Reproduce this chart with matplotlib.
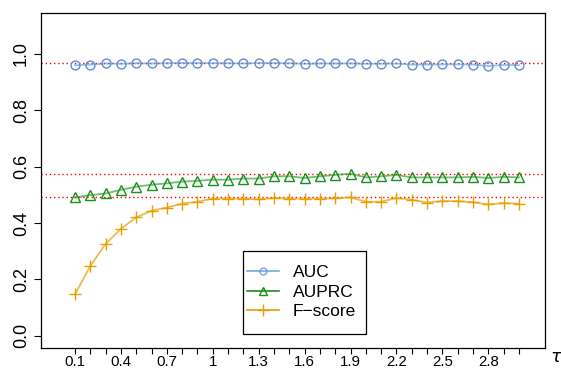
import matplotlib.pyplot as plt
from matplotlib.patches import Rectangle

plt.rcParams['font.family'] = ['Liberation Sans', 'DejaVu Sans']

# tau values 0.1 .. 3.0
tau = [round(0.1 * i, 1) for i in range(1, 31)]

auc = [0.960, 0.962, 0.966, 0.965, 0.967, 0.966, 0.967, 0.968, 0.968, 0.967,
       0.967, 0.966, 0.968, 0.967, 0.967, 0.965, 0.966, 0.966, 0.966, 0.965,
       0.965, 0.966, 0.962, 0.962, 0.963, 0.963, 0.962, 0.957, 0.961, 0.960]

auprc = [0.491, 0.499, 0.505, 0.518, 0.529, 0.536, 0.541, 0.547, 0.550, 0.554,
         0.554, 0.558, 0.558, 0.566, 0.566, 0.560, 0.566, 0.571, 0.575, 0.562,
         0.566, 0.571, 0.562, 0.562, 0.562, 0.562, 0.564, 0.560, 0.564, 0.562]

fscore = [0.147, 0.248, 0.326, 0.380, 0.420, 0.444, 0.455, 0.469, 0.476, 0.487,
          0.487, 0.487, 0.484, 0.489, 0.487, 0.487, 0.487, 0.488, 0.491, 0.476,
          0.476, 0.489, 0.483, 0.473, 0.478, 0.478, 0.474, 0.466, 0.471, 0.469]

tick_labels = ["0.1", "0.4", "0.7", "1", "1.3", "1.6", "1.9", "2.2", "2.5", "2.8"]

fig = plt.figure(figsize=(5.61, 3.69), dpi=100)
ax = fig.add_axes([41 / 561, 1 - 348.3 / 369, 504 / 561, 335 / 369])

c_auc = "#5b8fd6"
c_auprc = "#169016"
c_f = "#e69f00"

ax.plot(tau, auc, color=c_auc, lw=1.3, alpha=0.6, zorder=2)
ax.plot(tau, auc, linestyle="none", marker="o", ms=6.4, mfc="none", mec=c_auc, mew=1.0, zorder=3)
ax.plot(tau, auprc, color=c_auprc, lw=1.3, alpha=0.6, zorder=2)
ax.plot(tau, auprc, linestyle="none", marker="^", ms=7.2, mfc="none", mec=c_auprc, mew=1.0, zorder=3)
ax.plot(tau, fscore, color=c_f, lw=1.3, alpha=0.7, zorder=2)
ax.plot(tau, fscore, linestyle="none", marker="+", ms=9, mec=c_f, mew=1.0, zorder=3)

# best values as reference lines
for v in [max(auc), max(auprc), max(fscore)]:
    ax.axhline(v, color="red", lw=1.0, linestyle=(0, (1, 2)), zorder=1)

ax.set_xlim(-0.122, 3.17)
ax.set_ylim(-0.044, 1.144)
ax.set_xticks(tau)
ax.set_xticklabels([t if t in tick_labels else "" for t in
                    [("%g" % v) for v in tau]])
ax.set_yticks([0.0, 0.2, 0.4, 0.6, 0.8, 1.0])
ax.set_yticklabels(["0.0", "0.2", "0.4", "0.6", "0.8", "1.0"], rotation=90, va="center")
ax.tick_params(axis="both", direction="out", length=5, width=0.8, labelsize=13, pad=3)
ax.tick_params(axis="x", length=4.5, pad=0.3, labelsize=10.8)
for s in ax.spines.values():
    s.set_linewidth(0.9)

# legend box drawn by hand (R style: tight left padding)
ax.add_patch(Rectangle(((243 - 41) / 504, (348.3 - 334) / 335), 123 / 504, 83 / 335,
                       transform=ax.transAxes, fill=True, facecolor="white",
                       edgecolor="black", lw=0.9, zorder=4))
handles = [
    plt.Line2D([], [], color=c_auc, marker="o", ms=5, mfc="none", lw=1.2, alpha=0.8),
    plt.Line2D([], [], color=c_auprc, marker="^", ms=6, mfc="none", lw=1.2),
    plt.Line2D([], [], color=c_f, marker="+", ms=9, lw=1.2),
]
leg = ax.legend(handles, ["AUC", "AUPRC", "F\u2212score"], loc="center left",
                bbox_to_anchor=((247 - 41) / 504, (348.3 - 292) / 335), fontsize=12.5,
                frameon=False, handlelength=1.84, handletextpad=0.8, borderpad=0.0,
                borderaxespad=0.0, labelspacing=0.26)
leg.set_zorder(5)

fig.text(556 / 561, 1 - 357 / 369, r"$\tau$", fontsize=13, ha="center", va="center")

fig.savefig("out.png", dpi=100)
